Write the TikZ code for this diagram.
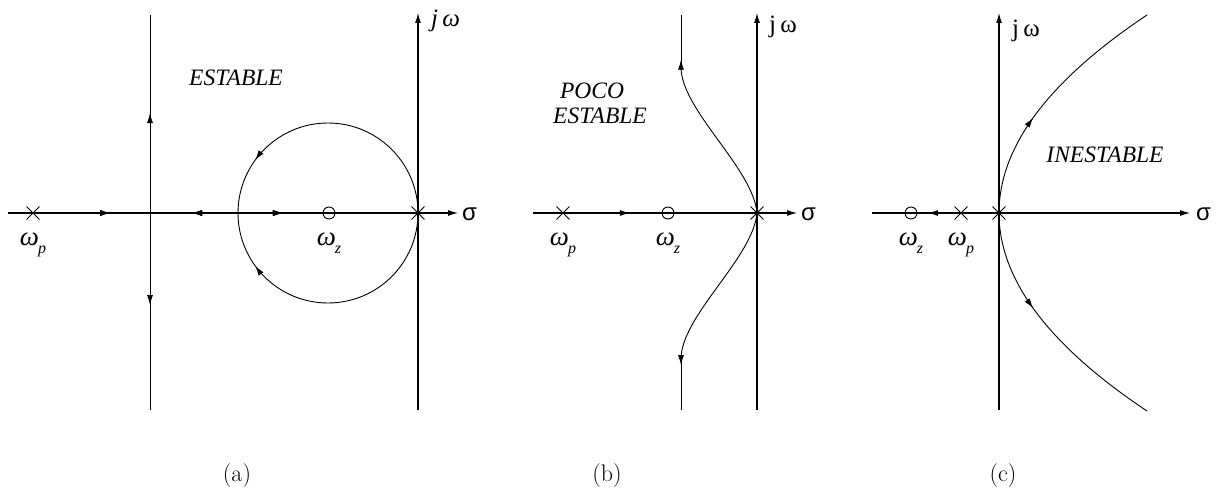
\documentclass[tikz,border=0pt]{standalone}
\usepackage{fontspec}
\usetikzlibrary{arrows.meta,shapes.misc,decorations.markings}
\newfontfamily\tim{Liberation Serif}
\newfontfamily\hel{Liberation Sans}
\newcommand{\wsub}[1]{{\tim\itshape ω\kern-1pt\raisebox{-0.3em}{\fontsize{16}{16}\selectfont #1}}}
\tikzset{
  axline/.style={line width=1.05pt,-{Latex[length=10pt,width=6pt]}},
  locline/.style={line width=0.9pt},
  pole/.style={draw,cross out,minimum size=12pt,inner sep=0pt,line width=0.9pt},
  zero/.style={draw,circle,minimum size=12pt,inner sep=0pt,line width=0.9pt},
  fwd/.style={postaction={decorate},decoration={markings,mark=at position #1 with {\arrow{Latex[length=10pt,width=6pt]}}}},
  bwd/.style={postaction={decorate},decoration={markings,mark=at position #1 with {\arrowreversed{Latex[length=10pt,width=6pt]}}}},
  region/.style={font=\fontsize{23.5}{25}\selectfont\tim\itshape,inner sep=0pt,anchor=base},
  sig/.style={font=\fontsize{24}{25}\selectfont\hel,inner sep=0pt,anchor=west},
  jw/.style={font=\fontsize{25}{26}\selectfont\tim,inner sep=0pt,anchor=base west},
  wlab/.style={font=\fontsize{27}{28}\selectfont,inner sep=0pt,anchor=base},
  captxt/.style={font=\fontsize{24}{26}\selectfont,inner sep=0pt}
}
\begin{document}
\begin{tikzpicture}[x=1pt,y=-1pt]
\useasboundingbox (0,0) rectangle (1222,495);
% ---------------- (a) ----------------
\coordinate (aL) at (8,213);
\coordinate (aR) at (458,213);
\coordinate (aJB) at (418,410);
\coordinate (aJT) at (418,13);
\coordinate (aVT) at (150,15);
\coordinate (aVC) at (150,213);
\coordinate (aVB) at (150,410);
\node[pole] (ap) at (33,213) {};
\node[pole] (ao) at (418,213) {};
\node[zero] (az) at (329,213) {};
\draw[axline,fwd=0.2267,bwd=0.4089,fwd=0.6111] (aL) -- (aR);
\draw[axline] (aJB) -- (aJT);
\draw[locline,fwd=0.505] (aVC) -- (aVT);
\draw[locline,fwd=0.467] (aVC) -- (aVB);
\draw[locline,fwd=0.8] (ao.center) arc[start angle=0,end angle=180,radius=90];
\draw[locline,fwd=0.8] (ao.center) arc[start angle=0,end angle=-180,radius=90];
\node[region] (aest) at (236,85) {ESTABLE};
\node[sig] (asig) at (462,214) {σ};
\node[jw] (ajw) at (431,27) {\itshape j\,ω};
\node[wlab] (apl) at (33,245) {\wsub{p}};
\node[wlab] (azl) at (329,245) {\wsub{z}};
\node[captxt] (acap) at (237,476) {(a)};
% ---------------- (b) ----------------
\coordinate (bL) at (533,213);
\coordinate (bR) at (797,213);
\coordinate (bJB) at (757,410);
\coordinate (bJT) at (757,13);
\coordinate (bUT) at (681,15);
\coordinate (bUS) at (681,67);
\coordinate (bDS) at (681,359);
\coordinate (bDB) at (681,410);
\node[pole] (bp) at (563,213) {};
\node[zero] (bz) at (668,213) {};
\node[pole] (bo) at (757,213) {};
\draw[axline,fwd=0.367] (bL) -- (bR);
\draw[axline] (bJB) -- (bJT);
\draw[locline] (bo.center) .. controls (753,168) and (681,110) .. (bUS);
\draw[locline,fwd=0.14] (bUS) -- (bUT);
\draw[locline] (bo.center) .. controls (753,258) and (681,316) .. (bDS);
\draw[locline,fwd=0.12] (bDS) -- (bDB);
\node[region] (bpoco) at (592,98) {POCO};
\node[region] (best) at (600,123) {ESTABLE};
\node[sig] (bsig) at (801,214) {σ};
\node[jw] (bjw) at (769,33) {j\,ω};
\node[wlab] (bpl) at (563,245) {\wsub{p}};
\node[wlab] (bzl) at (668,245) {\wsub{z}};
\node[captxt] (bcap) at (607,476) {(b)};
% ---------------- (c) ----------------
\coordinate (cL) at (872,213);
\coordinate (cR) at (1190,213);
\coordinate (cJB) at (999,410);
\coordinate (cJT) at (999,13);
\coordinate (cUE) at (1147,15);
\coordinate (cDE) at (1147,411);
\node[zero] (cz) at (911,213) {};
\node[pole] (cp) at (961,213) {};
\node[pole] (co) at (999,213) {};
\draw[axline,bwd=0.176] (cL) -- (cR);
\draw[axline] (cJB) -- (cJT);
\draw[locline,fwd=0.40] (co.center) .. controls (999,147) and (1048,81) .. (cUE);
\draw[locline,fwd=0.40] (co.center) .. controls (999,279) and (1048,345) .. (cDE);
\node[region] (cin) at (1105,162) {INESTABLE};
\node[sig] (csig) at (1196,214) {σ};
\node[jw] (cjw) at (1012,37) {j\,ω};
\node[wlab] (czl) at (911,245) {\wsub{z}};
\node[wlab] (cpl) at (961,245) {\wsub{p}};
\node[captxt] (ccap) at (1003,476) {(c)};
\end{tikzpicture}
\end{document}
